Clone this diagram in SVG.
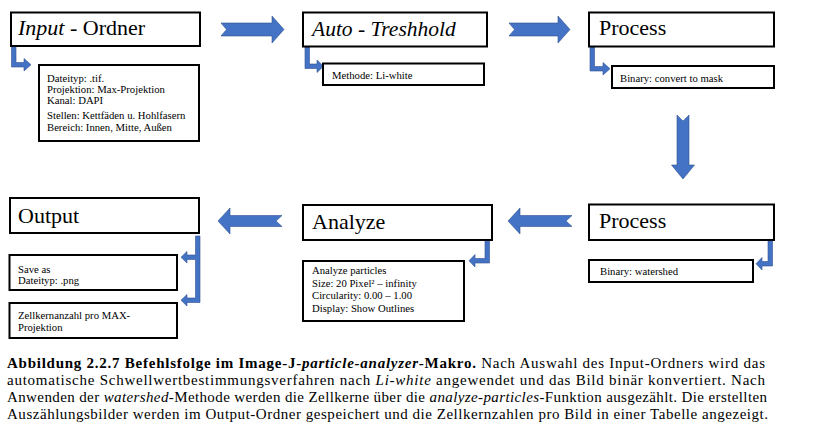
<svg xmlns="http://www.w3.org/2000/svg" width="815" height="437" viewBox="0 0 815 437">
<style>
.box{fill:#fff;stroke:#000;stroke-width:2}
.t{font-family:'Liberation Serif','Times New Roman',serif;fill:#000}
.h{font-size:22px}
.s{font-size:10.7px}
.c{font-size:15px}
.arr{fill:#4472C4;stroke:#2F528F;stroke-width:0.6}
.i{font-style:italic}
.b{font-weight:bold}
</style>
<rect width="815" height="437" fill="#fff"/>
<g id="connectors">
<path class="arr" d="M221,23 H272 V16 L284,29.5 L272,43 V36 H221 L226.5,29.5 Z"/>
<path class="arr" d="M509,23 H558 V16 L570,29.5 L558,43 V36 H509 L514.5,29.5 Z"/>
<path class="arr" d="M677,115 L683,121 L689,115 V165 H694.5 L683,179 L671.5,165 H677 Z"/>
<path class="arr" d="M218,221 L230,208 V215.5 H282 L276,221 L282,226.5 H230 V234 Z"/>
<path class="arr" d="M508,221 L520,208 V215.5 H572 L566,221 L572,226.5 H520 V234 Z"/>
<path class="arr" d="M11.5,46 H16 V62.5 H24 V58.5 L31,64.75 L24,71 V67 H11.5 Z"/>
<path class="arr" d="M305,47 H309.5 V64 H317 V60 L323.5,66.25 L317,72.5 V68.5 H305 Z"/>
<path class="arr" d="M590,47 H594.5 V66.5 H603 V62.5 L610,68.75 L603,75 V71 H590 Z"/>
<path class="arr" d="M485,240 H489.5 V263 H475 V267 L469,260.75 L475,254.5 V258.5 H485 Z"/>
<path class="arr" d="M768,240 H772.5 V266 H762 V270 L756,263.75 L762,257.5 V261.5 H768 Z"/>
<path class="arr" d="M195.5,236 H200 V302.5 H187 V306 L181,300.25 L187,294.5 V298 H195.5 V259.5 H187 V263 L181,257.25 L187,251.5 V255 H195.5 Z"/>
</g>
<g id="input">
<rect class="box" x="11" y="12.5" width="189" height="33.5"/>
<text class="t h" x="18" y="35"><tspan class="i">Input</tspan> - Ordner</text>
</g>
<g id="input-details">
<rect class="box" x="39" y="65" width="160" height="76"/>
<text class="t s" x="47" y="81.5">Dateityp: .tif.</text>
<text class="t s" x="47" y="92.5">Projektion: Max-Projektion</text>
<text class="t s" x="47" y="104">Kanal: DAPI</text>
<text class="t s" x="47" y="119">Stellen: Kettfäden u. Hohlfasern</text>
<text class="t s" x="47" y="131">Bereich: Innen, Mitte, Außen</text>
</g>
<g id="auto-threshold">
<rect class="box" x="303" y="12.5" width="184" height="34"/>
<text class="t h i" x="312" y="35.5" style="font-size:21.5px">Auto - Treshhold</text>
</g>
<g id="methode">
<rect class="box" x="323" y="63.5" width="161" height="21.5"/>
<text class="t s" x="332" y="78.5">Methode: Li-white</text>
</g>
<g id="process1">
<rect class="box" x="589" y="12.5" width="185" height="34"/>
<text class="t h" x="599" y="35">Process</text>
</g>
<g id="binary-mask">
<rect class="box" x="612" y="66" width="162" height="22"/>
<text class="t s" x="620" y="81.5">Binary: convert to mask</text>
</g>
<g id="process2">
<rect class="box" x="589" y="204.5" width="185" height="35.5"/>
<text class="t h" x="599" y="228">Process</text>
</g>
<g id="watershed">
<rect class="box" x="589" y="260" width="164" height="22"/>
<text class="t s" x="600" y="275">Binary: watershed</text>
</g>
<g id="analyze">
<rect class="box" x="303" y="205" width="189" height="35"/>
<text class="t h" x="312" y="229">Analyze</text>
</g>
<g id="analyze-details">
<rect class="box" x="303" y="261" width="161" height="60"/>
<text class="t s" x="312" y="274">Analyze particles</text>
<text class="t s" x="312" y="286.5">Size: 20 Pixel² – infinity</text>
<text class="t s" x="312" y="299">Circularity: 0.00 – 1.00</text>
<text class="t s" x="312" y="311.5">Display: Show Outlines</text>
</g>
<g id="output">
<rect class="box" x="10" y="198" width="189" height="35"/>
<text class="t h" x="18" y="223">Output</text>
</g>
<g id="save-as">
<rect class="box" x="9.5" y="255" width="167.5" height="35"/>
<text class="t s" x="18" y="272.5">Save as</text>
<text class="t s" x="18" y="283.5">Dateityp: .png</text>
</g>
<g id="zellkern">
<rect class="box" x="9.5" y="303" width="167.5" height="35"/>
<text class="t s" x="18" y="319">Zellkernanzahl pro MAX-</text>
<text class="t s" x="18" y="330.5">Projektion</text>
</g>
<g id="caption">
<text class="t c" x="7" y="368" textLength="758" lengthAdjust="spacing"><tspan class="b">Abbildung 2.2.7 Befehlsfolge im Image-J-</tspan><tspan class="b i">particle-analyzer</tspan><tspan class="b">-Makro.</tspan> Nach Auswahl des Input-Ordners wird das</text>
<text class="t c" x="7" y="385" textLength="758" lengthAdjust="spacing">automatische Schwellwertbestimmungsverfahren nach <tspan class="i">Li-white</tspan> angewendet und das Bild binär konvertiert. Nach</text>
<text class="t c" x="7" y="402" textLength="760" lengthAdjust="spacing">Anwenden der <tspan class="i">watershed</tspan>-Methode werden die Zellkerne über die <tspan class="i">analyze-particles</tspan>-Funktion ausgezählt. Die erstellten</text>
<text class="t c" x="7" y="419" textLength="761" lengthAdjust="spacing">Auszählungsbilder werden im Output-Ordner gespeichert und die Zellkernzahlen pro Bild in einer Tabelle angezeigt.</text>
</g>
</svg>
